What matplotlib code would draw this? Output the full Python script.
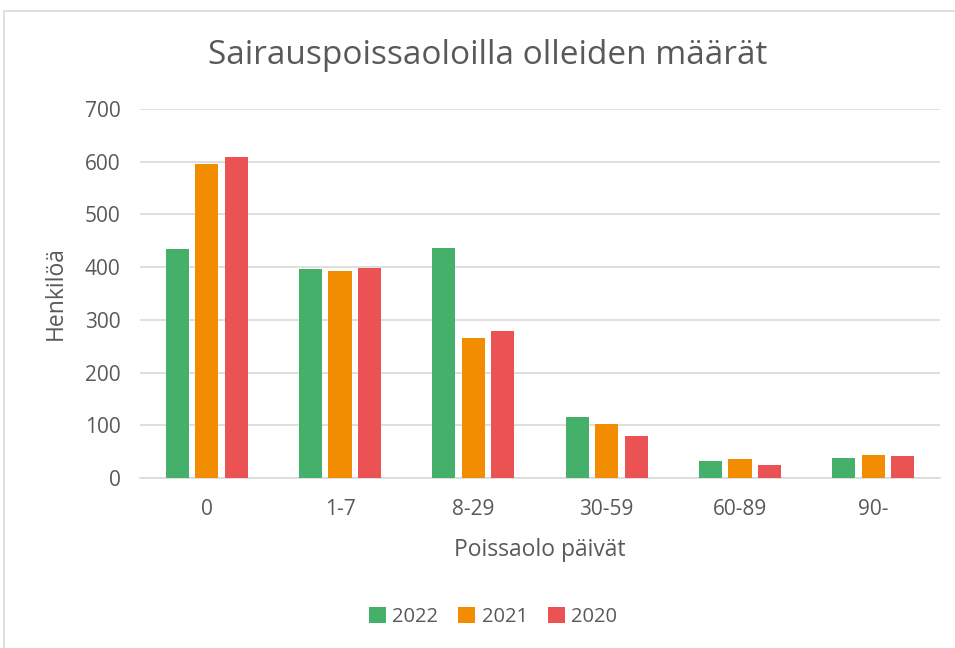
import numpy as np
import matplotlib.pyplot as plt
from matplotlib.patches import Rectangle

categories = ['0', '1-7', '8-29', '30-59', '60-89', '90-']
years = ['2022', '2021', '2020']
v2022 = [435, 397, 436, 116, 32, 38]
v2021 = [596, 393, 266, 102, 36, 44]
v2020 = [609, 398, 279, 80, 25, 42]
colors = ['#45B06A', '#F28C00', '#EB5254']

plt.rcParams['font.family'] = ['Open Sans', 'DejaVu Sans']
txt = '#595959'

fig = plt.figure(figsize=(9.55, 6.48), dpi=100)
ax = fig.add_axes([140 / 955, 1 - 478 / 648, 800 / 955, 369 / 648])

# reunus
fig.patches.append(Rectangle((4 / 955, -0.1), 1.1, 1 - 11 / 648 + 0.1, transform=fig.transFigure,
                             fill=False, edgecolor='#D9D9D9', linewidth=1.2))

x = np.arange(len(categories))
w = 0.173
step = 0.222
for i, (vals, yr) in enumerate(zip([v2022, v2021, v2020], years)):
    ax.bar(x + (i - 1) * step, vals, width=w, color=colors[i], label=yr, zorder=3)

ax.set_xlim(-0.5, len(categories) - 0.5)
ax.set_ylim(0, 700)
ax.set_yticks(range(0, 701, 100))
ax.grid(axis='y', color='#D9D9D9', linewidth=1.2, zorder=0)
for s in ['top', 'right', 'left']:
    ax.spines[s].set_visible(False)
ax.spines['bottom'].set_color('#D9D9D9')
ax.spines['bottom'].set_linewidth(1.2)
ax.tick_params(length=0, labelsize=15, colors=txt)
ax.tick_params(axis='y', pad=14)
ax.tick_params(axis='x', pad=15)
ax.set_xticks(x)
ax.set_xticklabels(categories)

ax.set_ylabel('Henkilöä', fontsize=16.5, color=txt, labelpad=12)
ax.set_xlabel('Poissaolo päivät', fontsize=16.5, color=txt, labelpad=13)
fig.text(488 / 955, 1 - 55 / 648, 'Sairauspoissaoloilla olleiden määrät', ha='center', va='center',
         fontsize=24, color=txt)

ax.legend(loc='center', bbox_to_anchor=(493 / 955, 1 - 617 / 648), bbox_transform=fig.transFigure,
          ncol=3, frameon=False, fontsize=14.5, labelcolor=txt, handlelength=0.85, handleheight=0.85,
          columnspacing=1.0, handletextpad=0.3)

fig.savefig('out.png', dpi=100)
